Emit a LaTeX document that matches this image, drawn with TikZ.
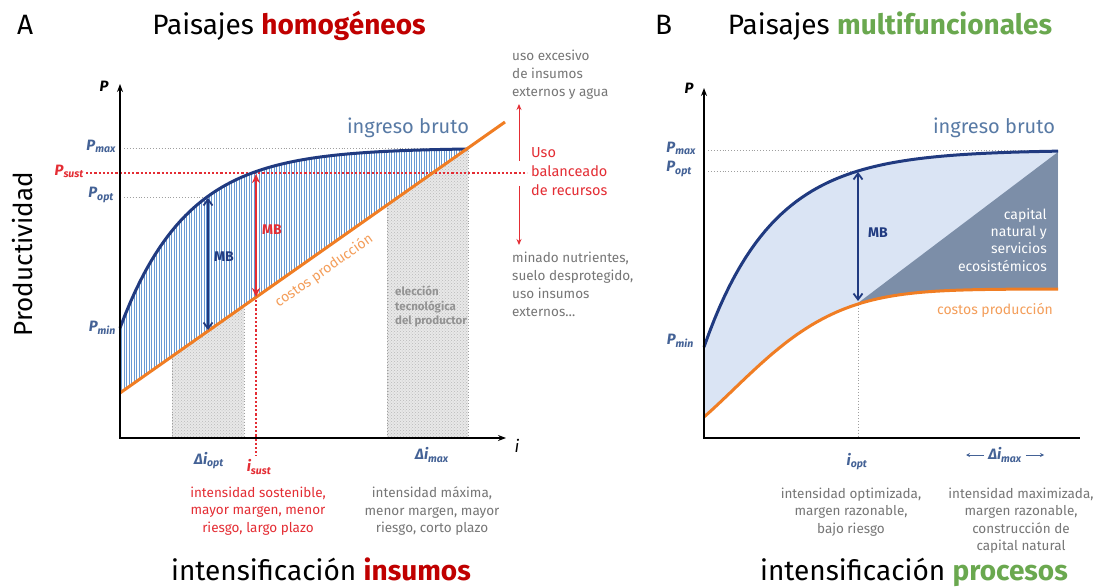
\documentclass[tikz,border=0pt]{standalone}
\usepackage{fontspec}
\setmainfont{Fira Sans}
\usepackage{tikz}
\usetikzlibrary {positioning,
                 arrows.meta,
                 patterns}
\definecolor{navy}{RGB}{32,58,128}
\definecolor{hatchblue}{RGB}{105,155,212}
\definecolor{orng}{RGB}{240,125,35}
\definecolor{darkred}{RGB}{192,0,0}
\definecolor{redann}{RGB}{228,45,52}
\definecolor{grn}{RGB}{106,168,79}
\definecolor{txtgray}{RGB}{118,118,118}
\definecolor{lblblue}{RGB}{68,98,150}
\definecolor{brutoblue}{RGB}{88,122,165}
\definecolor{paleblue}{RGB}{218,228,244}
\definecolor{slate}{RGB}{124,142,168}
\newcommand{\plabtxt}[2]{#1\textsubscript{#2}}
\tikzset{
         axisline/.style={line width=2pt},
         guide/.style={dotted, line width=0.9pt, draw=gray!75},
         sustline/.style={dotted, line width=2.2pt, draw=redann},
         bruto/.style={line width=3pt, draw=navy},
         costo/.style={line width=3pt, draw=orng},
         hatch/.style={line width=0.7pt, draw=hatchblue},
         techbox/.style={preaction={fill=gray!18}, pattern=crosshatch dots, pattern color=gray!55},
         mbarrow/.style={line width=1.8pt, {Straight Barb[length=6pt,width=9pt]}-{Straight Barb[length=6pt,width=9pt]}},
         redarrow/.style={line width=0.9pt, draw=redann, -{Stealth[length=6pt,width=5pt]}},
         note/.style={font=\fontsize{13.5}{18}\selectfont, text=txtgray, inner sep=0pt, execute at begin node=\strut},
         plab/.style={font=\fontsize{15}{15}\selectfont\bfseries\itshape, text=lblblue, inner sep=0pt},
         bigtitle/.style={font=\fontsize{28}{30}\selectfont, inner sep=0pt},
}

\begin{document}
\begin{tikzpicture}[x=1pt, y=-1pt]
    \useasboundingbox[fill=white] (0,0) rectangle (1102,588);

    % Titel
    \node[bigtitle, anchor=base west] (labA) at (17,35) {A};
    \node[bigtitle, anchor=base] (titleA) at (289,35) {Paisajes \textbf{\color{darkred}homogéneos}};
    \node[bigtitle, anchor=base west] (labB) at (655,35) {B};
    \node[bigtitle, anchor=base] (titleB) at (890,35) {Paisajes \textbf{\color{grn}multifuncionales}};
    \node[bigtitle, anchor=base] (intA) at (321,580) {intensificación \textbf{\color{darkred}insumos}};
    \node[bigtitle, anchor=base] (intB) at (914,580) {intensificación \textbf{\color{grn}procesos}};
    \node[font=\fontsize{26}{26}\selectfont, inner sep=0pt, rotate=90, anchor=base] (prod) at (32,254) {Productividad};

    % A: Flaechen
    \fill[techbox] (172,356.4) -- (244,305.7) -- (244,438) -- (172,438) -- cycle;
    \fill[techbox] (387,205) -- (468,148) -- (468,438) -- (387,438) -- cycle;
    \foreach \x in {121.5,124,...,467}{
        \pgfmathsetmacro{\yc}{148+180*exp(-0.01496*(\x-120))}
        \pgfmathsetmacro{\yo}{393-0.704*(\x-120)}
        \draw[hatch] (\x,\yc) -- (\x,\yo);
    }
    \draw[guide] (172,356.4) -- (172,438);
    \draw[guide] (244,305.7) -- (244,438);
    \draw[guide] (387,205) -- (387,438);
    \draw[guide] (468,148) -- (468,438);
    \node[font=\fontsize{11.5}{14.5}\selectfont\bfseries, text=gray!85, align=left, anchor=north west,
          inner sep=0pt, execute at begin node=\strut] (techA) at (395,286) {elección\\tecnológica\\del productor};

    % A: Hilfslinien
    \draw[guide] (124,148) -- (468,148);
    \draw[guide] (124,197) -- (207,197);
    \node[plab, anchor=east] (pmaxA) at (116,146) {\plabtxt{P}{max}};
    \node[plab, anchor=east, text=redann] (psustA) at (84,171) {\plabtxt{P}{sust}};
    \node[plab, anchor=east] (poptA) at (114,195) {\plabtxt{P}{opt}};
    \node[plab, anchor=east] (pminA) at (116,328) {\plabtxt{P}{min}};
    \coordinate (sustL) at (86,173);
    \coordinate (sustR) at (527,173);
    \draw[sustline] (sustL) -- (sustR);

    % A: Kurven
    \draw[bruto] plot[domain=0:348, samples=70] ({120+\x},{148+180*exp(-0.01496*\x)});
    \coordinate (costA0) at (120,393);
    \coordinate (costA1) at (505,122);
    \draw[costo] (costA0) -- (costA1);
    \node[font=\fontsize{14}{14}\selectfont, text=orng!75, rotate=35.1] (costoA) at (324,271) {costos producción};
    \node[font=\fontsize{20}{20}\selectfont, text=brutoblue] (brutoA) at (408,128) {ingreso bruto};

    % A: Achsen
    \coordinate (origA) at (120,438);
    \coordinate (yA) at (120,84);
    \coordinate (xA) at (506,438);
    \draw[axisline, {Stealth[length=8pt,width=6pt]}-{Stealth[length=8pt,width=6pt]}] (yA) -- (origA) -- (xA);
    \node[font=\fontsize{15}{15}\selectfont\bfseries\itshape] (pA) at (104,86) {P};
    \node[font=\fontsize{17}{17}\selectfont\itshape] (iA) at (517,446) {i};

    % A: MB
    \coordinate (mbA0) at (208,198);
    \coordinate (mbA1) at (208,330);
    \draw[mbarrow, draw=navy] (mbA0) -- (mbA1);
    \node[font=\fontsize{14}{14}\selectfont\bfseries, text=navy] (mbA) at (224,257) {MB};
    \coordinate (mbS0) at (256,174);
    \coordinate (mbS1) at (256,297);
    \draw[mbarrow, draw=redann, {Stealth[length=9pt,width=8pt]}-{Stealth[length=9pt,width=8pt]}] (mbS0) -- (mbS1);
    \node[font=\fontsize{14}{14}\selectfont\bfseries, text=redann] (mbS) at (272,230) {MB};
    \coordinate (isustT) at (256,300);
    \coordinate (isustB) at (256,456);
    \draw[sustline] (isustT) -- (isustB);

    % A: Achsenbeschriftung unten
    \node[plab] (dioptA) at (209,461) {Δ\plabtxt{i}{opt}};
    \node[plab, text=redann] (isust) at (259,467) {\plabtxt{i}{sust}};
    \node[plab] (dimaxA) at (432,455) {Δ\plabtxt{i}{max}};
    \node[note, text=redann, align=center, anchor=north, font=\fontsize{13.5}{17.5}\selectfont] (txtsust) at (258,486.7)
        {intensidad sostenible,\\mayor margen, menor\\riesgo, largo plazo};
    \node[note, align=center, anchor=north, font=\fontsize{13.5}{17.5}\selectfont] (txtmaxA) at (432,486.7)
        {intensidad máxima,\\menor margen, mayor\\riesgo, corto plazo};

    % A: rechts
    \node[note, align=left, anchor=north west] (excA) at (512,49.4) {uso excesivo\\de insumos\\externos y agua};
    \node[note, align=left, anchor=north west, text=redann, font=\fontsize{14.5}{19}\selectfont] (balA) at (531,147.7)
        {Uso\\balanceado\\de recursos};
    \node[note, align=left, anchor=north west] (minA) at (512,251.4)
        {minado nutrientes,\\suelo desprotegido,\\uso insumos\\externos…};
    \coordinate (upA0) at (519,161);
    \coordinate (upA1) at (519,104);
    \coordinate (dnA0) at (519,186);
    \coordinate (dnA1) at (519,245);
    \draw[redarrow] (upA0) -- (upA1);
    \draw[redarrow] (dnA0) -- (dnA1);

    % B: Flaechen
    \fill[paleblue] plot[domain=0:354, samples=70] ({704+\x},{150+197*exp(-0.01454*\x)})
        -- plot[domain=354:0, samples=70] ({704+\x},{289+128*exp(-0.00686*\x-0.0000497*\x*\x)}) -- cycle;
    \begin{scope}
        \clip (858,303) -- (1058,152) -- (1058,440) -- (858,440) -- cycle;
        \fill[slate] plot[domain=0:354, samples=70] ({704+\x},{150+197*exp(-0.01454*\x)})
            -- plot[domain=354:0, samples=70] ({704+\x},{289+128*exp(-0.00686*\x-0.0000497*\x*\x)}) -- cycle;
    \end{scope}
    \node[font=\fontsize{14}{17.3}\selectfont, text=white, align=right, anchor=north east, inner sep=0pt,
          execute at begin node=\strut] (capB) at (1047,208) {capital\\natural y\\servicios\\ecosistémicos};

    % B: Hilfslinien
    \draw[guide] (708,150) -- (1058,150);
    \draw[guide] (708,171) -- (858,171);
    \draw[guide] (858,305) -- (858,438);
    \node[plab, anchor=east] (pmaxB) at (696,148) {\plabtxt{P}{max}};
    \node[plab, anchor=east] (poptB) at (692,169) {\plabtxt{P}{opt}};
    \node[plab, anchor=east] (pminB) at (694,341) {\plabtxt{P}{min}};

    % B: Kurven
    \draw[bruto] plot[domain=0:354, samples=70] ({704+\x},{150+197*exp(-0.01454*\x)});
    \draw[costo] plot[domain=0:354, samples=70] ({704+\x},{289+128*exp(-0.00686*\x-0.0000497*\x*\x)});
    \node[font=\fontsize{20}{20}\selectfont, text=brutoblue] (brutoB) at (994,128) {ingreso bruto};
    \node[font=\fontsize{14}{14}\selectfont, text=orng!75] (costoB) at (995,310) {costos producción};

    % B: Achsen
    \coordinate (origB) at (704,438);
    \coordinate (yB) at (704,88);
    \coordinate (xB) at (1080,438);
    \draw[axisline, {Stealth[length=8pt,width=6pt]}-] (yB) -- (origB) -- (xB);
    \node[font=\fontsize{15}{15}\selectfont\bfseries\itshape] (pB) at (689,88) {P};

    % B: MB
    \coordinate (mbB0) at (858,172);
    \coordinate (mbB1) at (858,301);
    \draw[mbarrow, draw=navy] (mbB0) -- (mbB1);
    \node[font=\fontsize{14}{14}\selectfont\bfseries, text=navy] (mbB) at (878,233) {MB};

    % B: Achsenbeschriftung unten
    \node[plab] (ioptB) at (857,462) {\plabtxt{i}{opt}};
    \node[plab] (dimaxB) at (1005,455) {Δ\plabtxt{i}{max}};
    \coordinate (dimaxL) at (966,455);
    \coordinate (dimaxR) at (1044,455);
    \draw[line width=0.8pt, draw=lblblue, -{Stealth[length=4pt,width=4pt]}] (dimaxB.west) ++(-4,0) -- (dimaxL);
    \draw[line width=0.8pt, draw=lblblue, -{Stealth[length=4pt,width=4pt]}] (dimaxB.east) ++(4,0) -- (dimaxR);
    \node[note, align=center, anchor=north, font=\fontsize{13.5}{17.5}\selectfont] (txtoptB) at (851,487.7)
        {intensidad optimizada,\\margen razonable,\\bajo riesgo};
    \node[note, align=center, anchor=north, font=\fontsize{13.5}{17.5}\selectfont] (txtmaxB) at (1021,487.7)
        {intensidad maximizada,\\margen razonable,\\construcción de\\capital natural};
\end{tikzpicture}
\end{document}
